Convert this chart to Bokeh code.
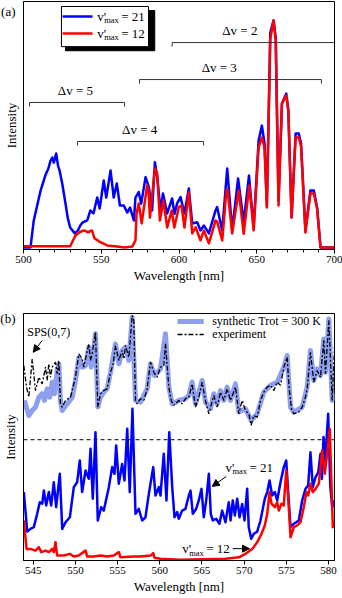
from bokeh.plotting import figure
from bokeh.models import (Label, Arrow, NormalHead, BoxAnnotation, Span,
                          SingleIntervalTicker, FixedTicker, Range1d)
from bokeh.layouts import column
from bokeh.embed import file_html
from bokeh.resources import INLINE

SERIF = "Liberation Serif"

# ---------------- panel (a) data ----------------
a_blue_wl = [500, 504.5, 506.6, 511, 514, 516, 517.4, 518.5, 519.5, 521, 522.2, 523.2, 524.9,
             527, 528.5, 530, 533, 535, 536.5, 538, 541, 543, 545, 547.4, 549, 551.6, 553.2,
             556, 558, 560, 562, 564.5, 566.7, 568.5, 571, 572, 574.1, 575.7, 578.5, 580.6,
             582.7, 584.5, 586, 588.1, 589.7, 592.4, 595.6, 597.1, 598.8, 601, 603.5, 606.3,
             608.5, 611.7, 613.8, 616, 619.2, 623.5, 624.5, 627.8, 631, 634.2, 638, 641.6,
             645, 648, 651.2, 653.3, 655, 656.5, 658.7, 660.8, 662.2, 664, 666.2, 669, 670.3,
             672.4, 675, 677, 678.5, 681.3, 684.5, 686.7, 688.8, 691, 700]
a_blue_int = [0, 0, 11.9, 25.1, 31.7, 34.8, 38.3, 39.6, 37.4, 41.4, 36.1, 33.9, 28.2,
              19.4, 12.8, 8.8, 6.2, 7.5, 9.7, 11.0, 11.9, 16.3, 15.0, 22.0, 17.2, 29.5, 22.0,
              33.9, 22.0, 28.2, 18.5, 18.5, 15.4, 17.6, 11.9, 22.0, 24.4, 19.3, 31.0, 26.6,
              16.3, 37.6, 31.0, 16.3, 23.8, 15.0, 21.6, 14.8, 19.4, 22.2, 15.0, 26.0,
              10.6, 11.1, 7.5, 9.7, 6.2, 16.3, 17.8, 7.5, 34.8, 7.5, 30.4, 11.0,
              31.7, 8.8, 47.1, 53.7, 45.8, 18.5, 94.7, 100, 92.5, 20.7, 63.4, 67.8, 60.4,
              13.2, 50.2, 50.2, 45.8, 7.5, 25.1, 25.1, 17.6, 0, 0]
a_red_wl = [500, 530, 533.4, 536, 538.8, 541.5, 544, 545.7, 549.5, 553.8, 560, 565, 570,
            572, 572.7, 574.1, 576, 579.5, 580.5, 581.3, 584.5, 586, 587.7, 590, 592.4,
            595.3, 597, 599.9, 601.6, 603.5, 606.3, 608.5, 610.7, 613.8, 616, 619.2, 623.5,
            624.5, 627.8, 630.5, 631.2, 634.2, 638.4, 641.6, 645.2, 648, 651.2, 653.3, 655,
            656.5, 658.7, 660.8, 662.2, 664, 666.2, 669, 670.3, 672.4, 675, 677, 678.5,
            681.3, 684.5, 686.7, 688.8, 691, 700]
a_red_int = [0.5, 0.5, 5.3, 6.7, 7.5, 6.7, 7.5, 4.0, 2.3, 0.9, 0.4, 0, 0.4,
             3.1, 15.0, 19.4, 10.6, 27.3, 23.8, 13.2, 34.8, 32.5, 11.9, 20.7, 8.8,
             16.3, 8.8, 17.8, 18.5, 8.8, 24.4, 6.2, 8.9, 3.1, 7.5, 1.8, 11.9,
             11.5, 3.1, 25.1, 25.5, 6.2, 25.1, 6.0, 27.3, 7.5, 44.0, 48.5, 44.0,
             17.6, 92.0, 100, 91.2, 18.5, 63.4, 67.0, 60.4, 13.2, 48.5, 48.5, 44.5,
             6.6, 23.8, 23.8, 17.2, 0, 0]

dv_names = ["Δv = 5", "Δv = 4", "Δv = 3", "Δv = 2"]
dv_start = [503.9, 534.7, 574.6, 595.6]
dv_end = [565.0, 615.8, 691.6, 705.0]
dv_level = [63.9, 46.7, 74.0, 90.3]
dv_label_x = [533.4, 574.7, 625.9, 639.1]

# ---------------- panel (b) data ----------------
b_exp_wl = [543.89, 544.21, 544.48, 544.88, 545.27, 545.67, 546.06, 546.46, 546.65, 546.85,
            547.05, 547.25, 547.64, 547.84, 548.04, 548.23, 548.43, 548.83, 549.42, 550.01,
            550.41, 550.80, 551.0, 551.20, 551.59, 551.79, 551.99, 552.38, 552.50, 552.66,
            552.97, 553.37, 553.76, 554.16, 554.47, 554.75, 555.15, 555.54, 555.74, 555.94,
            556.33, 556.73, 556.92, 557.12, 557.32, 557.71, 558.11, 558.50, 558.90, 559.29,
            559.69, 560.08, 560.48, 560.67, 561.07, 561.35, 561.66, 562.25, 562.65, 563.04,
            563.44, 563.83, 564.23, 564.62, 565.02, 565.41, 565.81, 566.40, 566.80, 567.19,
            567.59, 567.98, 568.38, 568.97, 569.36, 569.76, 570.15, 570.55, 570.82, 571.14,
            571.54, 571.93, 572.33, 572.72, 573.12, 573.51, 573.91, 574.30, 574.70, 575.09,
            575.33, 575.60, 575.88, 576.47, 576.87, 577.26, 577.46, 577.85, 578.25, 578.64,
            579.04, 579.43, 579.63, 580.03, 580.42, 580.70]
b_exp_int = [78.9, 70.2, 66.1, 81.6, 68.8, 74.2, 71.5, 78.3, 72.9, 79.6,
             74.2, 78.3, 80.3, 75.6, 81.0, 63.4, 62.1, 64.8, 66.1, 74.2,
             83.7, 81.6, 78.3, 81.6, 87.7, 81.0, 83.7, 92.4, 78.3, 62.1,
             67.5, 68.8, 69.5, 76.2, 79.6, 87.0, 81.0, 85.0, 81.6, 87.0,
             82.3, 99.2, 97.2, 64.8, 63.4, 65.5, 64.8, 69.5, 80.3, 76.2,
             74.2, 78.3, 78.9, 87.7, 70.2, 64.8, 62.8, 64.8, 63.4, 65.5,
             66.1, 71.5, 62.1, 66.1, 72.2, 64.8, 59.4, 66.8, 62.1, 68.2,
             64.8, 69.5, 64.8, 70.2, 59.4, 64.8, 60.7, 59.4, 54.7, 58.7,
             58.0, 64.8, 68.2, 70.2, 70.9, 68.8, 72.2, 70.9, 78.3, 82.3,
             69.5, 61.4, 59.4, 60.1, 62.1, 66.1, 69.5, 84.3, 72.2, 76.9,
             74.2, 89.1, 75.6, 97.2, 64.8, 86.4]
b_syn_wl = [543.95, 544.48, 544.88, 545.27, 545.67, 546.06, 546.34, 546.65, 546.97, 547.25,
            547.52, 547.84, 548.04, 548.23, 548.43, 549.02, 549.62, 550.01, 550.41, 550.80,
            551.20, 551.59, 551.87, 552.10, 552.38, 552.66, 552.97, 553.37, 553.76, 554.16,
            554.75, 555.15, 555.54, 555.94, 556.33, 556.73, 557.12, 557.71, 558.50, 558.90,
            559.37, 560.08, 560.67, 561.07, 561.47, 562.25, 563.04, 563.44, 563.83, 564.23,
            565.02, 565.41, 566.00, 566.40, 566.80, 567.19, 567.59, 567.98, 568.38, 568.97,
            569.36, 570.15, 570.82, 571.54, 572.33, 573.12, 573.91, 574.70, 575.09, 575.49,
            575.88, 576.87, 577.46, 577.85, 578.25, 578.64, 579.04, 579.43, 579.63, 580.03,
            580.42, 580.70]
b_syn_int = [64.8, 58.7, 60.7, 62.1, 66.1, 67.5, 64.8, 69.5, 66.1, 72.2,
             67.5, 76.9, 79.6, 64.8, 60.7, 63.4, 66.1, 72.9, 82.3, 78.3,
             78.9, 86.4, 78.3, 83.7, 91.8, 62.1, 66.1, 68.2, 69.5, 76.2,
             87.7, 79.6, 85.0, 86.4, 81.0, 98.5, 64.8, 64.1, 69.5, 79.6,
             74.9, 77.6, 91.8, 70.2, 63.4, 64.8, 65.5, 66.8, 72.2, 63.4,
             72.9, 64.1, 61.4, 67.5, 63.4, 68.8, 64.8, 70.2, 64.8, 71.5,
             60.1, 61.4, 56.7, 59.4, 68.2, 70.9, 72.2, 78.3, 83.0, 62.1,
             60.1, 62.1, 70.2, 85.0, 72.9, 77.6, 74.9, 89.7, 76.2, 97.8,
             64.8, 67.5]
b_blue_wl = [543.89, 544.29, 544.68, 545.07, 545.47, 545.78, 546.07, 546.26, 546.54, 546.85,
             547.13, 547.44, 547.72, 548.15, 548.44, 548.83, 549.34, 549.81, 550.21, 550.52,
             550.80, 551.20, 551.59, 551.79, 552.06, 552.38, 552.65, 553.06, 553.36, 553.96,
             554.36, 554.63, 554.83, 555.14, 555.54, 555.82, 556.14, 556.44, 556.76, 557.12,
             557.51, 557.91, 558.30, 558.70, 559.22, 559.49, 559.88, 560.08, 560.47, 560.79,
             561.12, 561.47, 561.74, 562.06, 562.25, 562.65, 563.04, 563.44, 563.64, 563.91,
             564.31, 564.62, 564.94, 565.21, 565.50, 565.81, 566.04, 566.28, 566.68, 567.07,
             567.39, 567.78, 568.17, 568.38, 568.65, 568.89, 569.17, 569.45, 569.76, 570.04,
             570.35, 570.54, 570.83, 571.14, 571.54, 571.93, 572.44, 572.73, 573.00, 573.32,
             573.63, 573.91, 574.30, 574.69, 574.98, 575.21, 575.49, 575.88, 576.47, 576.87,
             577.26, 577.58, 577.85, 578.13, 578.45, 578.77, 579.04, 579.20, 579.40, 579.60,
             579.95, 580.20, 580.43, 580.70]
b_blue_int = [27.7, 11.7, 12.8, 13.5, 18.9, 23.6, 23.0, 28.3, 22.3, 27.7,
              22.3, 31.7, 21.6, 35.1, 12.8, 15.5, 17.5, 29.7, 31.7, 40.5,
              27.7, 36.4, 33.1, 45.2, 25.0, 51.9, 16.2, 21.6, 20.2, 29.7,
              37.8, 35.1, 46.6, 31.1, 39.1, 32.4, 53.3, 27.7, 61.4, 18.9,
              20.9, 16.2, 17.5, 27.0, 37.8, 26.3, 29.7, 26.3, 43.2, 24.3,
              51.9, 29.7, 17.5, 19.6, 16.9, 20.2, 20.9, 26.3, 28.3, 18.9,
              20.9, 24.3, 29.0, 17.5, 24.3, 35.1, 18.9, 16.2, 16.9, 14.9,
              20.2, 15.5, 23.6, 16.2, 24.3, 18.2, 25.0, 17.5, 22.9, 16.2,
              29.0, 13.5, 8.8, 10.8, 11.7, 16.2, 25.0, 27.7, 32.4, 26.3,
              27.7, 24.3, 31.7, 37.8, 40.5, 27.7, 13.5, 14.9, 16.2, 24.3,
              29.0, 30.4, 43.8, 29.7, 33.7, 35.7, 43.2, 33.0, 50.0, 40.0,
              59.4, 30.0, 21.6, 24.3]
b_red_wl = [543.89, 544.21, 544.68, 545.27, 545.66, 545.95, 546.46, 546.85, 547.25, 547.44,
            547.64, 547.84, 548.63, 549.34, 549.81, 550.40, 551.20, 551.40, 552.18, 552.97,
            553.77, 554.55, 555.14, 555.34, 556.92, 557.71, 558.90, 559.22, 559.37, 560.08,
            562.45, 567.78, 569.36, 570.15, 570.95, 571.54, 572.05, 572.44, 572.73, 573.00,
            573.23, 573.63, 573.91, 574.10, 574.42, 574.69, 574.98, 575.21, 575.49, 575.88,
            576.28, 576.67, 577.06, 577.38, 577.58, 577.85, 578.13, 578.45, 578.84, 579.24,
            579.55, 579.83, 580.14, 580.50, 580.70]
b_red_int = [16.2, 4.7, 4.7, 4.0, 5.4, 3.4, 4.0, 3.4, 4.7, 3.4,
             7.4, 2.0, 2.0, 2.7, 1.6, 2.0, 4.0, 1.6, 1.6, 2.0,
             1.6, 2.0, 3.4, 1.3, 1.6, 1.6, 2.0, 3.0, 1.1, 0.7,
             0.3, 0.7, 1.3, 2.7, 4.7, 7.4, 10.8, 14.2, 18.9, 27.7,
             23.0, 21.6, 23.6, 20.2, 23.0, 22.3, 36.4, 25.6, 9.4, 13.5,
             14.2, 15.5, 21.6, 27.7, 26.3, 31.1, 27.7, 29.0, 31.1, 44.5,
             35.1, 43.2, 53.3, 13.5, 15.5]
b_threshold = 48.9

BLUE = "#0000ff"
RED = "#ff0000"
LIGHT = "#8f9ff0"


def make_fig(height, xr, yr, top, bottom, interval, minor, tag, tag_y):
    p = figure(width=342, height=height, x_range=Range1d(*xr), y_range=Range1d(*yr),
               output_backend="svg", toolbar_location=None,
               min_border_left=23, min_border_right=8,
               min_border_top=top, min_border_bottom=bottom)
    p.xgrid.visible = False
    p.ygrid.visible = False
    p.outline_line_color = "black"
    p.outline_line_alpha = 1
    p.outline_line_width = 1
    p.background_fill_color = "white"
    p.border_fill_color = "white"
    xa = p.xaxis[0]
    xa.ticker = SingleIntervalTicker(interval=interval, num_minor_ticks=minor)
    xa.axis_label = "Wavelength [nm]"
    xa.axis_label_text_font = SERIF
    xa.axis_label_text_font_size = "13px"
    xa.axis_label_text_font_style = "normal"
    xa.axis_label_text_color = "black"
    xa.major_label_text_font = SERIF
    xa.major_label_text_font_size = "11px"
    xa.major_label_text_color = "black"
    xa.major_tick_out = 4
    xa.major_tick_in = 0
    xa.minor_tick_out = 3
    xa.minor_tick_in = 0
    xa.major_label_standoff = 2
    xa.axis_label_standoff = 2
    xa.axis_line_color = "black"
    xa.major_tick_line_color = "black"
    xa.minor_tick_line_color = "black"
    # left axis: no ticks; the panel tag "(a)"/"(b)" is its only tick label
    ya = p.yaxis[0]
    ya.ticker = FixedTicker(ticks=[tag_y], minor_ticks=[])
    ya.major_label_overrides = {tag_y: tag}
    ya.major_label_text_font = SERIF
    ya.major_label_text_font_size = "13px"
    ya.major_label_text_color = "black"
    ya.major_tick_line_color = None
    ya.minor_tick_line_color = None
    ya.major_tick_out = 0
    ya.major_tick_in = 0
    ya.minor_tick_out = 0
    ya.minor_tick_in = 0
    ya.major_label_standoff = 8
    ya.axis_label = "Intensity"
    ya.axis_label_text_font = SERIF
    ya.axis_label_text_font_size = "13px"
    ya.axis_label_text_font_style = "normal"
    ya.axis_label_text_color = "black"
    ya.axis_label_standoff = -21
    ya.axis_line_color = "black"
    return p


def txt(p, x, y, text, size="13px", align="left", baseline="middle", xo=0, yo=0):
    p.add_layout(Label(x=x, y=y, text=text, text_font=SERIF, text_font_size=size,
                       text_color="black", text_align=align, text_baseline=baseline,
                       x_offset=xo, y_offset=yo))


def vmax_label(p, x, y, num):
    txt(p, x, y, "v'")
    txt(p, x, y, "max", size="8.5px", xo=7, yo=-4)
    txt(p, x, y, "= " + num, xo=24)


def seg(p, x0, y0, x1, y1, color="black", width=1, dash="solid", head=False):
    end = NormalHead(size=7, fill_color="black", line_color="black", line_width=1) if head else None
    p.add_layout(Arrow(end=end, x_start=x0, y_start=y0, x_end=x1, y_end=y1,
                       line_color=color, line_width=width, line_dash=dash))


# ---------------- figure (a) ----------------
pa = make_fig(300, (500, 700), (-0.9, 108.4), 1, 51, 50, 5, "(a)", 104)
pa.line(a_blue_wl, a_blue_int, line_color=BLUE, line_width=2.5, line_join="round")
pa.line(a_red_wl, a_red_int, line_color=RED, line_width=2.5, line_join="round")

tick = 1.8
for name, s, e, lvl, lx in zip(dv_names, dv_start, dv_end, dv_level, dv_label_x):
    pa.line([s, s, e, e], [lvl - tick, lvl, lvl, lvl - tick], line_color="#333333", line_width=1)
    txt(pa, lx, lvl, name, align="center", yo=12)

pa.add_layout(BoxAnnotation(left=527.0, right=584.4, bottom=86.7, top=104.4,
                            fill_color="black", fill_alpha=1, line_color="black", line_alpha=1))
pa.add_layout(BoxAnnotation(left=524.4, right=580.4, bottom=88.5, top=106.2,
                            fill_color="white", fill_alpha=1, line_color="black",
                            line_alpha=1, line_width=1))
seg(pa, 525.1, 101.8, 544.4, 101.8, color=BLUE, width=2.5)
seg(pa, 525.1, 94.3, 544.4, 94.3, color=RED, width=2.5)
vmax_label(pa, 547.4, 101.8, "21")
vmax_label(pa, 547.4, 94.3, "12")

# ---------------- figure (b) ----------------
pb = make_fig(298, (543.85, 580.7), (0, 100), 13, 38, 5, 0, "(b)", 98)
pb.add_layout(Span(location=b_threshold, dimension="width", line_color="black",
                   line_width=1, line_dash="4 3", level="underlay"))
pb.line(b_syn_wl, b_syn_int, line_color=LIGHT, line_width=5, line_join="round")
pb.line(b_exp_wl, b_exp_int, line_color="black", line_width=1.3, line_dash="5 2 2 2")
pb.line(b_blue_wl, b_blue_int, line_color=BLUE, line_width=2.5, line_join="round")
pb.line(b_red_wl, b_red_int, line_color=RED, line_width=2.5, line_join="round")

seg(pb, 562.1, 96.8, 565.2, 96.8, color=LIGHT, width=5)
seg(pb, 562.1, 91.5, 565.2, 91.5, color="black", width=1.3, dash="5 2 2 2")
txt(pb, 566.2, 96.8, "synthetic Trot = 300 K", size="12px")
txt(pb, 566.2, 91.5, "experiment", size="12px")

txt(pb, 544.29, 92.4, "SPS(0,7)", size="12px")
seg(pb, 546.07, 89.1, 545.0, 84.3, head=True)

vmax_label(pb, 567.78, 37.8, "21")
seg(pb, 567.87, 34.0, 566.21, 30.0, head=True)
vmax_label(pb, 562.65, 4.8, "12")
seg(pb, 568.65, 4.8, 570.63, 4.8, head=True)

layout = column(pa, pb, spacing=0)
open("out.html", "w").write(file_html(layout, INLINE))
